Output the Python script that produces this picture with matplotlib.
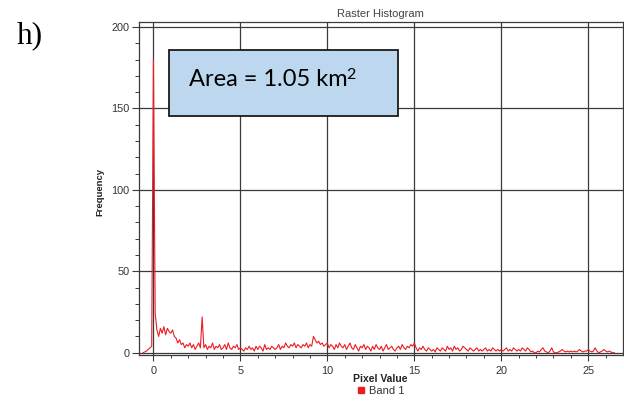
"""Raster histogram of pixel values (Band 1) with area annotation."""

import matplotlib.pyplot as plt
from matplotlib.lines import Line2D
from matplotlib.patches import Rectangle
from matplotlib.text import Annotation
from matplotlib.ticker import MultipleLocator

# histogram sampled every 0.1 pixel-value units, starting at -0.6
bin_start = -0.6
bin_step = 0.1
frequency = [
    0, 0.5, 1, 2, 3, 4,
    180, 24, 14, 10, 15, 12, 16, 11, 15, 13,
    12, 14, 10, 9, 6, 8, 5, 6, 3, 5,
    4, 6, 3, 5, 2, 4, 6, 3, 22, 3,
    5, 2, 4, 3, 6, 2, 4, 3, 5, 2,
    3, 5, 2, 6, 3, 2, 4, 3, 5, 2,
    3, 2, 1, 3, 2, 4, 2, 3, 1, 4,
    2, 4, 3, 1, 5, 2, 3, 2, 4, 3,
    2, 3, 5, 2, 4, 3, 6, 4, 3, 5,
    4, 6, 3, 5, 4, 3, 5, 4, 6, 3,
    5, 4, 10, 8, 6, 7, 5, 6, 4, 5,
    6, 3, 5, 4, 2, 5, 3, 6, 4, 3,
    5, 2, 4, 6, 3, 2, 5, 3, 1, 4,
    3, 5, 2, 4, 3, 1, 4, 2, 5, 3,
    2, 4, 1, 3, 5, 2, 3, 4, 2, 1,
    3, 4, 2, 5, 3, 2, 4, 3, 5, 4,
    6, 3, 1, 3, 2, 4, 2, 1, 3, 2,
    1, 2, 0.5, 3, 2, 1, 3, 2, 1, 4,
    2, 3, 1, 4, 2, 3, 1, 2, 4, 3,
    2, 1, 3, 2, 1, 2, 3, 1, 2, 1,
    2, 3, 1, 2, 1, 3, 2, 1, 2, 1,
    2, 1, 2, 3, 1, 2, 1, 3, 2, 1,
    2, 1, 3, 2, 1, 3, 2, 0.5, 1, 0,
    0, 1, 0.5, 2, 3, 1, 0.5, 0, 1, 3,
    0.5, 0, 0, 0.5, 1, 2, 1, 0.5, 1, 0.5,
    1, 0.5, 1, 0.5, 1, 2, 1, 0.5, 1, 1,
    2, 1, 0.5, 1, 3, 1, 0, 0.5, 1, 2,
    1, 0.5, 1, 0.5, 0, 0,
]
pixel_value = [bin_start + i * bin_step for i in range(len(frequency))]

x_ticks = [0, 5, 10, 15, 20, 25]
y_ticks = [0, 50, 100, 150, 200]
series_label = "Band 1"
area_text = "Area = 1.05 km"
area_exponent = "2"
panel_label = "h)"

RED = "#ec1c24"
GRID = "#3a3a3a"
LABEL_FONT = ["Liberation Sans", "DejaVu Sans"]
BOX_FONT = ["Lato", "DejaVu Sans"]

fig = plt.figure(figsize=(6.24, 4.05), dpi=100)
ax = fig.add_axes([139 / 624, 1 - 355 / 405, 483.5 / 624, 333 / 405])

ax.plot(pixel_value, frequency, color=RED, lw=0.8, zorder=3)

ax.set_xlim(-0.83, 26.97)
ax.set_ylim(-1.4, 203.1)
ax.set_xticks(x_ticks)
ax.set_yticks(y_ticks)
ax.xaxis.set_minor_locator(MultipleLocator(1))
ax.yaxis.set_minor_locator(MultipleLocator(10))
ax.grid(True, which="major", color=GRID, lw=0.9, zorder=1)
for spine in ax.spines.values():
    spine.set_color(GRID)
    spine.set_linewidth(0.9)

ax.tick_params(axis="x", which="major", length=4, width=0.8, color=GRID, pad=4,
               labelsize=7.8, labelcolor="#333333")
ax.tick_params(axis="x", which="minor", length=2.5, width=0.7, color=GRID)
ax.tick_params(axis="y", which="major", length=5, width=0.8, color=GRID, pad=2,
               labelsize=7.8, labelcolor="#333333")
ax.tick_params(axis="y", which="minor", length=3, width=0.7, color=GRID)
for lbl in ax.get_xticklabels() + ax.get_yticklabels():
    lbl.set_family(LABEL_FONT)

ax.set_title("Raster Histogram", fontsize=8, color="#444444", family=LABEL_FONT, pad=3.5)

fig.text(100 / 624, 1 - 192 / 405, "Frequency", rotation=90, fontsize=6.8, weight="bold",
         family=LABEL_FONT, ha="center", va="center", color="#222222")
fig.text(380.5 / 624, 1 - 379 / 405, "Pixel Value", fontsize=7.5, weight="bold",
         family=LABEL_FONT, ha="center", va="center", color="#222222")

handle = Line2D([], [], marker="s", color=RED, ls="none", markersize=4.5)
leg = ax.legend([handle], [series_label], loc="center", frameon=False,
                bbox_to_anchor=(380 / 624, 1 - 391 / 405), bbox_transform=fig.transFigure,
                prop={"family": LABEL_FONT, "size": 8}, handletextpad=0.2, handlelength=1)
for t in leg.get_texts():
    t.set_color("#333333")

# annotation box with area
fig.patches.append(Rectangle((169 / 624, 1 - 116 / 405), 229 / 624, 66 / 405,
                             transform=fig.transFigure, facecolor="#bdd7ee",
                             edgecolor="#1a1a1a", lw=1.3, zorder=5))
area = fig.text(189 / 624, 1 - 79 / 405, area_text, fontsize=17, family=BOX_FONT,
                ha="left", va="center", color="black", zorder=6)
sup = Annotation(area_exponent, xy=(1, 1), xycoords=area, xytext=(-1, 0.5),
                 textcoords="offset points", ha="left", va="top", fontsize=11.5,
                 family=BOX_FONT, annotation_clip=False, zorder=6)
fig.add_artist(sup)

fig.text(17 / 624, 1 - 43 / 405, panel_label, fontsize=22.5,
         family=["Liberation Serif", "DejaVu Serif"], ha="left", va="baseline")

fig.savefig("out.png", dpi=100)
